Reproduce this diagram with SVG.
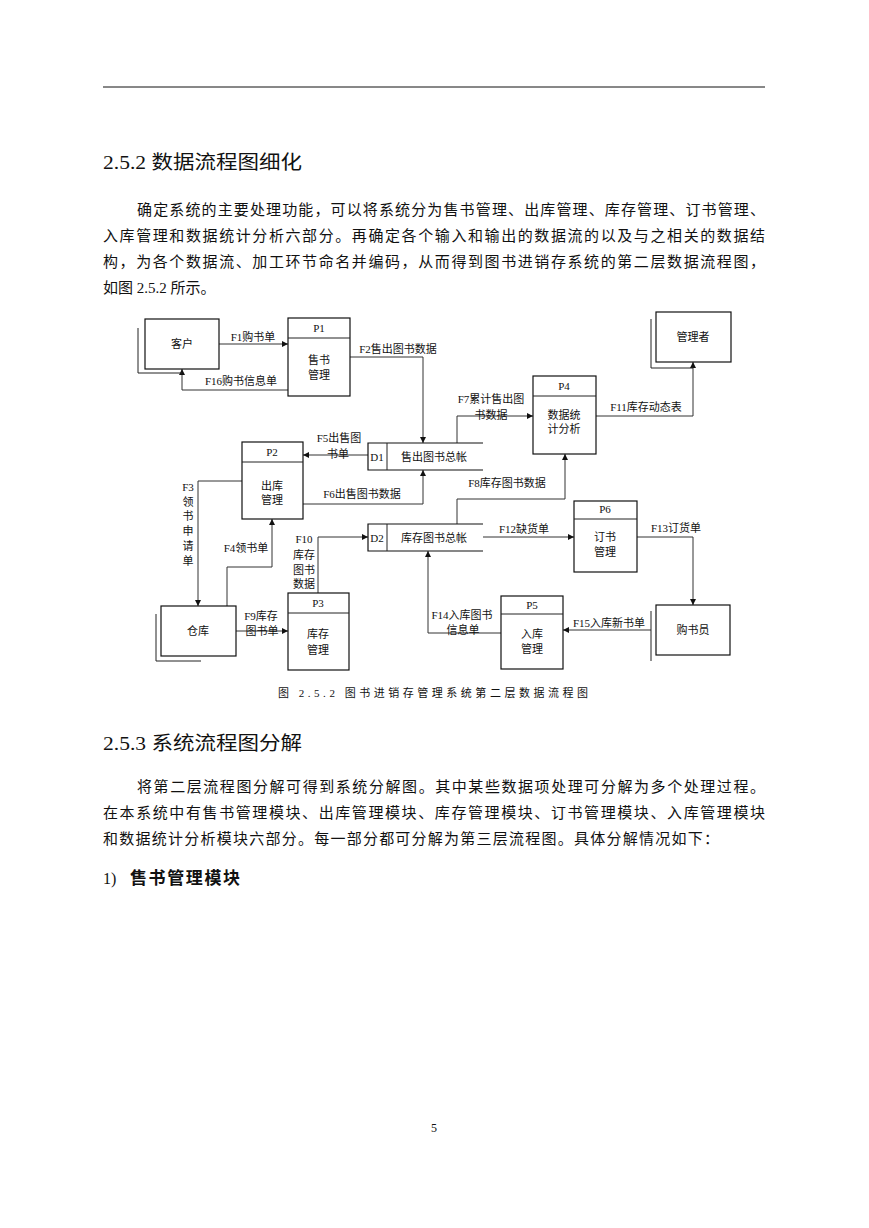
<svg xmlns="http://www.w3.org/2000/svg" width="869" height="1228" viewBox="0 0 869 1228">
<style>
.body{font-family:"Liberation Serif","Noto Sans CJK SC",serif;font-size:15px;fill:#111}
.h{font-family:"Liberation Serif","Noto Sans CJK SC",sans-serif;font-size:19px;fill:#111}
.d{font-family:"Liberation Serif","Noto Sans CJK SC",sans-serif;font-size:11px;fill:#111;text-anchor:middle}
.box{fill:#fff;stroke:#111;stroke-width:1.2}
.ln{fill:none;stroke:#222;stroke-width:1}
.c{fill:none;stroke:#333;stroke-width:1;marker-end:url(#ah)}
</style>
<defs>
<marker id="ah" viewBox="0 0 10 10" refX="10" refY="5" markerWidth="9" markerHeight="6" markerUnits="userSpaceOnUse" orient="auto">
<path d="M0,0 L10,5 L0,10 z" fill="#111"/>
</marker>
</defs>
<rect width="869" height="1228" fill="#fff"/>
<line x1="103" y1="87" x2="765" y2="87" stroke="#111" stroke-width="1"/>

<text class="h" x="103" y="169" textLength="199" lengthAdjust="spacingAndGlyphs">2.5.2 数据流程图细化</text>
<text class="body" x="137" y="215" textLength="628" lengthAdjust="spacing">确定系统的主要处理功能，可以将系统分为售书管理、出库管理、库存管理、订书管理、</text>
<text class="body" x="103" y="241" textLength="662" lengthAdjust="spacing">入库管理和数据统计分析六部分。再确定各个输入和输出的数据流的以及与之相关的数据结</text>
<text class="body" x="103" y="267" textLength="662" lengthAdjust="spacing">构，为各个数据流、加工环节命名并编码，从而得到图书进销存系统的第二层数据流程图，</text>
<text class="body" x="103" y="293">如图 2.5.2 所示。</text>

<g id="connectors">
<path class="c" d="M219,344 H288"/>
<path class="c" d="M288,390 H182 V369"/>
<path class="c" d="M350,357 H423 V443"/>
<path class="c" d="M368,455 H303"/>
<path class="c" d="M303,504 H423 V470"/>
<path class="c" d="M457,443 V416 H533"/>
<path class="c" d="M596,416 H693 V362"/>
<path class="c" d="M242,481 H198 V606"/>
<path class="c" d="M227,606 V567 H272 V519"/>
<path class="c" d="M236,631 H288"/>
<path class="c" d="M318,593 V537 H368"/>
<path class="c" d="M457,524 V499 H565 V454"/>
<path class="c" d="M483,537 H574"/>
<path class="c" d="M637,537 H693 V605"/>
<path class="c" d="M651,630 H563"/>
<path class="c" d="M501,633 H428 V551"/>
</g>

<g id="labels">
<text class="d" x="253" y="341">F1购书单</text>
<text class="d" x="241" y="385">F16购书信息单</text>
<text class="d" x="398" y="353">F2售出图书数据</text>
<text class="d" x="491" y="403">F7累计售出图</text>
<text class="d" x="491" y="419">书数据</text>
<text class="d" x="646" y="411">F11库存动态表</text>
<text class="d" x="339" y="442">F5出售图</text>
<text class="d" x="338" y="458">书单</text>
<text class="d" x="362" y="498">F6出售图书数据</text>
<text class="d" x="507" y="487">F8库存图书数据</text>
<text class="d" x="524" y="533">F12缺货单</text>
<text class="d" x="676" y="532">F13订货单</text>
<text class="d" x="246" y="552">F4领书单</text>
<text class="d" x="261" y="620">F9库存</text>
<text class="d" x="262" y="635">图书单</text>
<text class="d" x="462" y="619">F14入库图书</text>
<text class="d" x="463" y="634">信息单</text>
<text class="d" x="609" y="627">F15入库新书单</text>
<text class="d" x="188" y="491">F3</text>
<text class="d" x="188" y="506">领</text>
<text class="d" x="188" y="520">书</text>
<text class="d" x="188" y="535">申</text>
<text class="d" x="188" y="550">请</text>
<text class="d" x="188" y="565">单</text>
<text class="d" x="304" y="543">F10</text>
<text class="d" x="304" y="559">库存</text>
<text class="d" x="304" y="574">图书</text>
<text class="d" x="304" y="588">数据</text>
</g>

<g id="kehu">
<path class="ln" d="M138,328 V373 H182"/>
<rect class="box" x="145" y="319" width="74" height="50"/>
<text class="d" x="182" y="348">客户</text>
</g>
<g id="guanlizhe">
<path class="ln" d="M651,319 V368 H693"/>
<rect class="box" x="656" y="312" width="75" height="50"/>
<text class="d" x="693" y="341">管理者</text>
</g>
<g id="cangku">
<path class="ln" d="M156,614 V661 H201"/>
<rect class="box" x="161" y="606" width="75" height="50"/>
<text class="d" x="198" y="635">仓库</text>
</g>
<g id="goushuyuan">
<path class="ln" d="M651,611 V661"/>
<rect class="box" x="656" y="605" width="74" height="50"/>
<text class="d" x="693" y="634">购书员</text>
</g>

<g id="P1">
<rect class="box" x="288" y="318" width="62" height="78"/>
<line class="ln" x1="288" y1="338" x2="350" y2="338"/>
<text class="d" x="319" y="332">P1</text>
<text class="d" x="319" y="364">售书</text>
<text class="d" x="319" y="379">管理</text>
</g>
<g id="P2">
<rect class="box" x="242" y="442" width="61" height="77"/>
<line class="ln" x1="242" y1="462" x2="303" y2="462"/>
<text class="d" x="272" y="456">P2</text>
<text class="d" x="272" y="490">出库</text>
<text class="d" x="272" y="504">管理</text>
</g>
<g id="P3">
<rect class="box" x="288" y="593" width="61" height="77"/>
<line class="ln" x1="288" y1="613" x2="349" y2="613"/>
<text class="d" x="318" y="607">P3</text>
<text class="d" x="318" y="638">库存</text>
<text class="d" x="318" y="654">管理</text>
</g>
<g id="P4">
<rect class="box" x="533" y="376" width="63" height="78"/>
<line class="ln" x1="533" y1="396" x2="596" y2="396"/>
<text class="d" x="564" y="390">P4</text>
<text class="d" x="564" y="419">数据统</text>
<text class="d" x="564" y="433">计分析</text>
</g>
<g id="P5">
<rect class="box" x="501" y="596" width="62" height="73"/>
<line class="ln" x1="501" y1="614" x2="563" y2="614"/>
<text class="d" x="532" y="609">P5</text>
<text class="d" x="532" y="638">入库</text>
<text class="d" x="532" y="653">管理</text>
</g>
<g id="P6">
<rect class="box" x="574" y="501" width="63" height="71"/>
<line class="ln" x1="574" y1="519" x2="637" y2="519"/>
<text class="d" x="605" y="513">P6</text>
<text class="d" x="605" y="541">订书</text>
<text class="d" x="605" y="556">管理</text>
</g>
<g id="D1">
<rect x="368" y="443" width="115" height="27" fill="#fff"/>
<path d="M483,443 H368 V470 H483" fill="none" stroke="#111" stroke-width="1.2"/>
<line class="ln" x1="387" y1="443" x2="387" y2="470"/>
<text class="d" x="377" y="461">D1</text>
<text class="d" x="434" y="461">售出图书总帐</text>
</g>
<g id="D2">
<rect x="368" y="524" width="115" height="27" fill="#fff"/>
<path d="M483,524 H368 V551 H483" fill="none" stroke="#111" stroke-width="1.2"/>
<line class="ln" x1="387" y1="524" x2="387" y2="551"/>
<text class="d" x="377" y="542">D2</text>
<text class="d" x="434" y="542">库存图书总帐</text>
</g>

<text class="d" x="433" y="697" textLength="310" lengthAdjust="spacing">图 2.5.2   图书进销存管理系统第二层数据流程图</text>

<text class="h" x="103" y="750" textLength="199" lengthAdjust="spacingAndGlyphs">2.5.3 系统流程图分解</text>
<text class="body" x="137" y="792" textLength="628" lengthAdjust="spacing">将第二层流程图分解可得到系统分解图。其中某些数据项处理可分解为多个处理过程。</text>
<text class="body" x="103" y="818" textLength="662" lengthAdjust="spacing">在本系统中有售书管理模块、出库管理模块、库存管理模块、订书管理模块、入库管理模块</text>
<text class="body" x="103" y="844" textLength="616" lengthAdjust="spacing">和数据统计分析模块六部分。每一部分都可分解为第三层流程图。具体分解情况如下：</text>
<text class="body" x="103" y="884" style="font-size:16px">1)</text>
<text class="body" x="130" y="884" style="font-weight:bold;font-size:17px" textLength="110" lengthAdjust="spacing">售书管理模块</text>

<text class="body" x="434" y="1132" style="font-size:12px;text-anchor:middle">5</text>
</svg>
